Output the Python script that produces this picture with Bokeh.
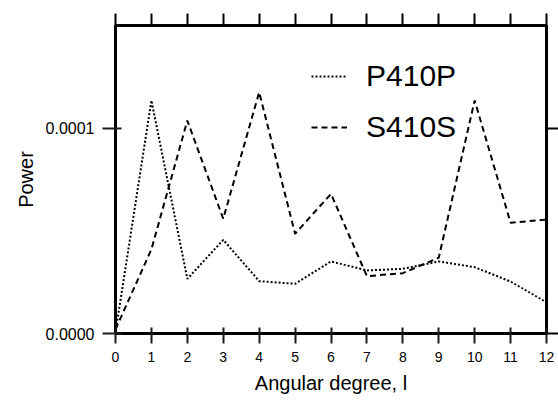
from bokeh.plotting import figure
from bokeh.models import (Range1d, LinearAxis, FixedTicker, Legend, LegendItem,
                          CustomLabelingPolicy, Title)
from bokeh.embed import file_html
from bokeh.resources import INLINE

degrees = list(range(13))
p410p = [0.005e-4, 1.135e-4, 0.266e-4, 0.456e-4, 0.255e-4, 0.242e-4, 0.351e-4,
         0.307e-4, 0.315e-4, 0.351e-4, 0.323e-4, 0.253e-4, 0.152e-4]
s410s = [0.02e-4, 0.41e-4, 1.037e-4, 0.559e-4, 1.175e-4, 0.486e-4, 0.680e-4,
         0.279e-4, 0.294e-4, 0.369e-4, 1.135e-4, 0.539e-4, 0.555e-4]
x_ticks = list(range(13))
y_ticks = [0.0, 1e-4]
y_tick_labels = ["0.0000", "0.0001"]
series_names = ["P410P", "S410S"]
x_title = "Angular degree, l"
y_title = "Power"

FONT = "Liberation Sans"
INK = "#1c1c1c"

p = figure(width=558, height=401, output_backend="svg", toolbar_location=None,
           x_range=Range1d(0, 12), y_range=Range1d(0, 1.5e-4),
           x_axis_location=None, y_axis_location=None,
           min_border_left=115, min_border_right=12, min_border_top=25,
           min_border_bottom=68)
p.grid.visible = False
p.outline_line_color = "black"
p.outline_line_width = 3
p.outline_line_alpha = 1
p.background_fill_color = "white"
p.border_fill_color = "white"

no_labels = CustomLabelingPolicy(code="""
for (const i of Array.from(indices)) { indices.unset(i) }
return indices
""")


def tick_axis(ticks, out, tin=0, color="black"):
    return LinearAxis(ticker=FixedTicker(ticks=ticks), axis_line_color=None,
                      major_tick_out=out, major_tick_in=tin, major_tick_line_width=2,
                      major_tick_line_color=color, minor_tick_line_color=None,
                      major_label_policy=no_labels, major_label_text_font_size="0px",
                      major_label_standoff=0)


def label_axis(ticks, size, standoff, overrides=None):
    ax = LinearAxis(ticker=FixedTicker(ticks=ticks), axis_line_color=None,
                    major_tick_out=0, major_tick_in=0, major_tick_line_color=None,
                    minor_tick_line_color=None,
                    major_label_text_font=FONT, major_label_text_font_size=size,
                    major_label_text_color="black", major_label_standoff=standoff)
    if overrides:
        ax.major_label_overrides = overrides
    return ax


# tick marks on all four sides
p.add_layout(tick_axis(x_ticks, 10, 6, INK), "below")
p.add_layout(tick_axis(y_ticks, 13, 6, INK), "left")
p.add_layout(tick_axis(x_ticks, 12), "above")
p.add_layout(tick_axis(y_ticks, 12), "right")

# tick labels
p.add_layout(label_axis(x_ticks, "14px", 8), "below")
p.add_layout(label_axis(y_ticks, "16px", 8,
                        {t: s for t, s in zip(y_ticks, y_tick_labels)}), "left")

# axis titles
xt = Title(text=x_title, align="center", text_font=FONT, text_font_size="20px",
           text_font_style="normal", text_color="black", standoff=11)
p.add_layout(xt, "below")
yt = Title(text=y_title, align="center", text_font=FONT, text_font_size="20px",
           text_font_style="normal", text_color="black", standoff=12)
p.add_layout(yt, "left")

r1 = p.line(degrees, p410p, line_color="black", line_width=2, line_dash="2 2")
r2 = p.line(degrees, s410s, line_color="black", line_width=2, line_dash="6 4")

legend = Legend(items=[LegendItem(label=series_names[0], renderers=[r1]),
                       LegendItem(label=series_names[1], renderers=[r2])],
                location=(196, 186), orientation="vertical",
                border_line_color=None, background_fill_alpha=0,
                padding=0, margin=0, spacing=11,
                glyph_width=36, glyph_height=40, label_height=40,
                label_standoff=19, label_text_font=FONT,
                label_text_font_size="30px", label_text_color="black")
p.add_layout(legend, "center")

open("out.html", "w").write(file_html(p, INLINE))
